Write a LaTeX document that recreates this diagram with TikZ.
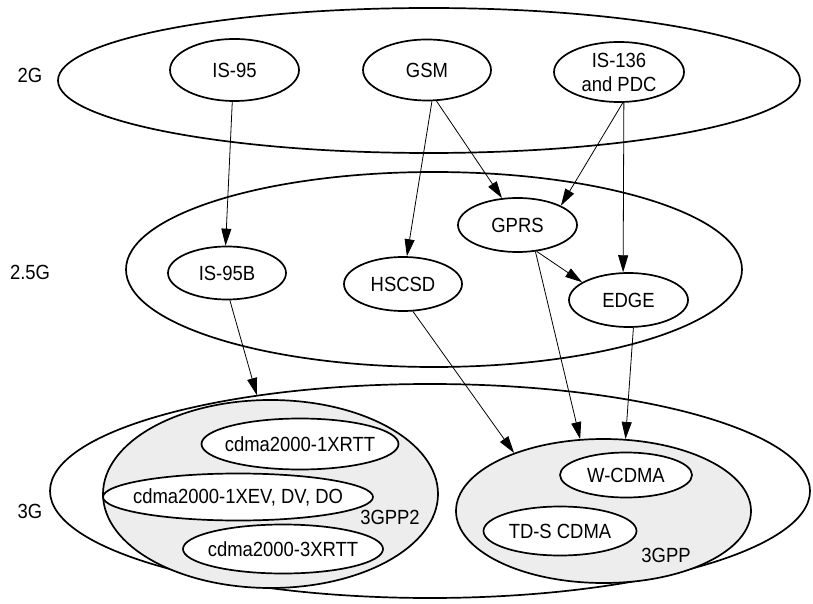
\documentclass[tikz,border=0pt]{standalone}
\usepackage{fontspec}
\setmainfont{Liberation Sans}[FakeStretch=0.9]
\usetikzlibrary{shapes.geometric,arrows.meta}
\begin{document}
\begin{tikzpicture}[x=1pt,y=1pt,
  el/.style={ellipse,draw,line width=1.7pt,inner sep=0pt},
  lbl/.style={font=\fontsize{20.5}{24}\selectfont},
  arr/.style={line width=0.8pt,-{Triangle[length=17pt,width=10pt]}}]
\useasboundingbox (0,0) rectangle (813,603);
% outer groups
\node[el,minimum width=742,minimum height=145] (g2) at (429,522.5) {};
\node[el,minimum width=616,minimum height=195] (g25) at (434,333.5) {};
\node[el,minimum width=760,minimum height=214] (g3) at (430,112) {};
\node[el,fill=black!7,minimum width=335,minimum height=188] (gpp2) at (270.5,109) {};
\node[el,fill=black!7,minimum width=295,minimum height=144] (gpp) at (603.5,92) {};
% labels
\node[lbl] (l2) at (30,528) {2G};
\node[lbl] (l25) at (30,330.5) {2.5G};
\node[lbl] (l3) at (30,91.5) {3G};
\node[lbl] (lgpp2) at (390,86) {3GPP2};
\node[lbl] (lgpp) at (666,48) {3GPP};
% 2G
\node[el,minimum width=129,minimum height=62,label={[lbl]center:IS-95}] (is95) at (234.5,533) {};
\node[el,minimum width=128,minimum height=61,label={[lbl]center:GSM}] (gsm) at (427,533) {};
\node[el,minimum width=130,minimum height=60,label={[lbl,align=center]center:IS-136\\and PDC}] (is136) at (619,531) {};
% 2.5G
\node[el,minimum width=118,minimum height=53,label={[lbl]center:IS-95B}] (is95b) at (227,330) {};
\node[el,minimum width=118,minimum height=54,label={[lbl]center:HSCSD}] (hscsd) at (403,319) {};
\node[el,minimum width=119,minimum height=54,label={[lbl]center:GPRS}] (gprs) at (517.5,378) {};
\node[el,minimum width=119,minimum height=54,label={[lbl]center:EDGE}] (edge) at (628.5,303) {};
% 3G
\node[el,fill=white,minimum width=197,minimum height=51,label={[lbl]center:cdma2000-1XRTT}] (rtt1) at (300,159) {};
\node[el,fill=white,minimum width=270,minimum height=47,label={[lbl]center:cdma2000-1XEV, DV, DO}] (xev) at (238,106) {};
\node[el,fill=white,minimum width=200,minimum height=49,label={[lbl]center:cdma2000-3XRTT}] (rtt3) at (283,54) {};
\node[el,fill=white,minimum width=132,minimum height=45,label={[lbl]center:W-CDMA}] (wcdma) at (626,128) {};
\node[el,fill=white,minimum width=153,minimum height=49,label={[lbl]center:TD-S CDMA}] (tds) at (560,72) {};
% arrows
\draw[arr] (is95.-94.5) -- (is95b.93);
\draw[arr] (gsm.-81) -- (hscsd.82);
\draw[arr] (gsm.-73) -- (gprs.120);
\draw[arr] (is136.-83) -- (gprs.24);
\draw[arr] (is136.-81) -- (edge.101);
\draw[arr] (gprs.-54) -- (edge.159);
\draw[arr] (gprs.-56) -- (gpp.108);
\draw[arr] (is95b.-84) -- (g3.151);
\draw[arr] (hscsd.-70) -- (gpp.147);
\draw[arr] (edge.-80.5) -- (gpp.73);
\end{tikzpicture}
\end{document}
